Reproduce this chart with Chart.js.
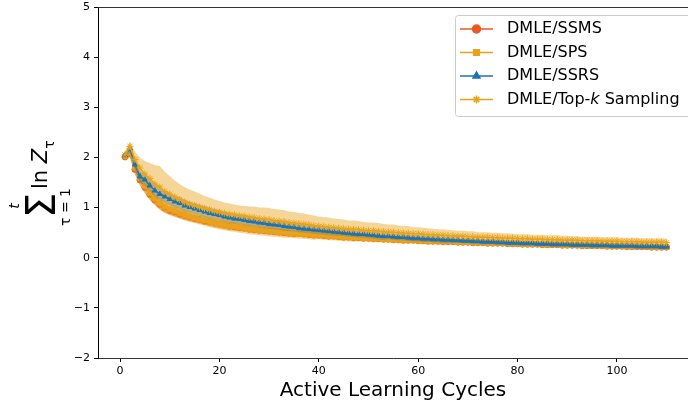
<!DOCTYPE html>
<html>
<head>
<meta charset="utf-8">
<script src="https://cdn.jsdelivr.net/npm/chart.js@4/dist/chart.umd.min.js"></script>
<style>
  html, body { margin: 0; padding: 0; background: #fff; }
  #wrap { width: 688px; height: 404px; }
</style>
</head>
<body>
<div id="wrap"><canvas id="chart" width="688" height="404"></canvas></div>
<script>
// x positions (active learning cycles)
const cycles = Array.from({ length: 110 }, (_, i) => i + 1);
const xTicks = [0, 20, 40, 60, 80, 100];
const yTicks = [-2, -1, 0, 1, 2, 3, 4, 5];

const ssmsMean = [
  2.01, 2.08, 1.76, 1.55, 1.40, 1.26, 1.15, 1.06, 0.99, 0.94,
  0.91, 0.87, 0.84, 0.81, 0.78, 0.76, 0.73, 0.71, 0.69, 0.67,
  0.65, 0.63, 0.62, 0.60, 0.59, 0.57, 0.56, 0.55, 0.54, 0.53,
  0.52, 0.51, 0.50, 0.49, 0.48, 0.48, 0.47, 0.46, 0.45, 0.45,
  0.44, 0.43, 0.43, 0.42, 0.41, 0.41, 0.40, 0.40, 0.39, 0.39,
  0.38, 0.38, 0.37, 0.37, 0.36, 0.36, 0.35, 0.35, 0.35, 0.34,
  0.34, 0.33, 0.33, 0.33, 0.32, 0.32, 0.32, 0.31, 0.31, 0.31,
  0.30, 0.30, 0.30, 0.29, 0.29, 0.29, 0.29, 0.28, 0.28, 0.28,
  0.27, 0.27, 0.27, 0.27, 0.26, 0.26, 0.26, 0.26, 0.25, 0.25,
  0.25, 0.25, 0.24, 0.24, 0.24, 0.24, 0.24, 0.23, 0.23, 0.23,
  0.23, 0.22, 0.22, 0.22, 0.22, 0.22, 0.21, 0.21, 0.21, 0.21
];
const ssmsStd = [
  0.07, 0.08, 0.10, 0.11, 0.11, 0.11, 0.10, 0.10, 0.10, 0.09,
  0.09, 0.09, 0.09, 0.08, 0.08, 0.08, 0.08, 0.08, 0.08, 0.08,
  0.08, 0.08, 0.08, 0.07, 0.07, 0.07, 0.07, 0.07, 0.07, 0.07,
  0.07, 0.07, 0.07, 0.07, 0.06, 0.06, 0.06, 0.06, 0.06, 0.06,
  0.06, 0.06, 0.06, 0.06, 0.06, 0.06, 0.06, 0.06, 0.06, 0.06,
  0.06, 0.06, 0.05, 0.05, 0.05, 0.05, 0.05, 0.05, 0.05, 0.05,
  0.05, 0.05, 0.05, 0.05, 0.05, 0.05, 0.05, 0.05, 0.05, 0.05,
  0.05, 0.05, 0.05, 0.05, 0.05, 0.05, 0.05, 0.05, 0.05, 0.05,
  0.05, 0.05, 0.05, 0.05, 0.05, 0.05, 0.05, 0.05, 0.05, 0.05,
  0.05, 0.05, 0.05, 0.05, 0.05, 0.05, 0.05, 0.05, 0.05, 0.05,
  0.05, 0.05, 0.05, 0.05, 0.05, 0.05, 0.05, 0.05, 0.05, 0.05
];

const spsMean = [
  2.02, 2.10, 1.79, 1.58, 1.43, 1.29, 1.18, 1.09, 1.02, 0.97,
  0.93, 0.89, 0.85, 0.82, 0.79, 0.76, 0.74, 0.71, 0.69, 0.67,
  0.65, 0.63, 0.62, 0.60, 0.59, 0.57, 0.56, 0.55, 0.54, 0.53,
  0.52, 0.51, 0.50, 0.49, 0.48, 0.47, 0.47, 0.46, 0.45, 0.45,
  0.44, 0.43, 0.43, 0.42, 0.41, 0.41, 0.40, 0.40, 0.39, 0.39,
  0.38, 0.38, 0.37, 0.37, 0.36, 0.36, 0.35, 0.35, 0.35, 0.34,
  0.34, 0.33, 0.33, 0.33, 0.32, 0.32, 0.32, 0.31, 0.31, 0.31,
  0.30, 0.30, 0.30, 0.29, 0.29, 0.29, 0.29, 0.28, 0.28, 0.28,
  0.27, 0.27, 0.27, 0.27, 0.26, 0.26, 0.26, 0.26, 0.25, 0.25,
  0.25, 0.25, 0.24, 0.24, 0.24, 0.24, 0.24, 0.23, 0.23, 0.23,
  0.23, 0.22, 0.22, 0.22, 0.22, 0.22, 0.21, 0.21, 0.21, 0.21
];
const spsStd = [
  0.08, 0.10, 0.12, 0.13, 0.14, 0.14, 0.13, 0.13, 0.12, 0.12,
  0.12, 0.11, 0.11, 0.11, 0.10, 0.10, 0.10, 0.10, 0.10, 0.10,
  0.10, 0.10, 0.10, 0.10, 0.10, 0.10, 0.10, 0.10, 0.10, 0.10,
  0.10, 0.10, 0.10, 0.09, 0.09, 0.09, 0.09, 0.09, 0.09, 0.08,
  0.08, 0.08, 0.08, 0.08, 0.08, 0.08, 0.08, 0.07, 0.07, 0.07,
  0.07, 0.07, 0.07, 0.07, 0.07, 0.07, 0.07, 0.07, 0.07, 0.07,
  0.07, 0.07, 0.07, 0.07, 0.07, 0.06, 0.06, 0.06, 0.06, 0.06,
  0.06, 0.06, 0.06, 0.06, 0.06, 0.06, 0.06, 0.06, 0.06, 0.06,
  0.06, 0.06, 0.06, 0.06, 0.06, 0.06, 0.06, 0.06, 0.06, 0.06,
  0.06, 0.06, 0.06, 0.06, 0.06, 0.06, 0.06, 0.06, 0.06, 0.06,
  0.06, 0.06, 0.06, 0.06, 0.06, 0.06, 0.06, 0.06, 0.06, 0.06
];

const ssrsMean = [
  2.04, 2.18, 1.86, 1.62, 1.56, 1.44, 1.34, 1.27, 1.22, 1.17,
  1.12, 1.09, 1.04, 1.01, 0.98, 0.95, 0.92, 0.89, 0.87, 0.85,
  0.82, 0.80, 0.78, 0.77, 0.75, 0.73, 0.72, 0.70, 0.69, 0.67,
  0.66, 0.65, 0.63, 0.62, 0.61, 0.59, 0.58, 0.57, 0.56, 0.55,
  0.54, 0.53, 0.52, 0.51, 0.50, 0.49, 0.48, 0.47, 0.47, 0.46,
  0.45, 0.44, 0.43, 0.43, 0.42, 0.41, 0.41, 0.40, 0.39, 0.39,
  0.38, 0.38, 0.37, 0.37, 0.36, 0.36, 0.35, 0.35, 0.34, 0.34,
  0.33, 0.33, 0.32, 0.32, 0.32, 0.31, 0.31, 0.30, 0.30, 0.30,
  0.29, 0.29, 0.29, 0.28, 0.28, 0.28, 0.27, 0.27, 0.27, 0.27,
  0.26, 0.26, 0.26, 0.26, 0.25, 0.25, 0.25, 0.25, 0.24, 0.24,
  0.24, 0.24, 0.24, 0.23, 0.23, 0.23, 0.23, 0.23, 0.22, 0.22
];
const ssrsStd = [
  0.06, 0.08, 0.10, 0.11, 0.12, 0.12, 0.12, 0.12, 0.12, 0.12,
  0.12, 0.12, 0.12, 0.11, 0.11, 0.11, 0.11, 0.11, 0.10, 0.10,
  0.10, 0.10, 0.10, 0.10, 0.10, 0.10, 0.09, 0.09, 0.09, 0.09,
  0.09, 0.09, 0.09, 0.09, 0.08, 0.08, 0.08, 0.08, 0.08, 0.08,
  0.08, 0.08, 0.08, 0.07, 0.07, 0.07, 0.07, 0.07, 0.07, 0.07,
  0.07, 0.07, 0.07, 0.06, 0.06, 0.06, 0.06, 0.06, 0.06, 0.06,
  0.06, 0.06, 0.06, 0.06, 0.06, 0.06, 0.05, 0.05, 0.05, 0.05,
  0.05, 0.05, 0.05, 0.05, 0.05, 0.05, 0.05, 0.05, 0.05, 0.05,
  0.05, 0.05, 0.05, 0.05, 0.05, 0.05, 0.05, 0.05, 0.05, 0.05,
  0.05, 0.05, 0.05, 0.05, 0.05, 0.05, 0.05, 0.05, 0.05, 0.05,
  0.05, 0.05, 0.05, 0.05, 0.05, 0.05, 0.05, 0.05, 0.05, 0.05
];

const topkMean = [
  2.05, 2.22, 1.96, 1.79, 1.67, 1.58, 1.47, 1.41, 1.32, 1.27,
  1.21, 1.16, 1.11, 1.07, 1.04, 1.01, 0.98, 0.96, 0.93, 0.91,
  0.89, 0.87, 0.86, 0.84, 0.83, 0.81, 0.80, 0.78, 0.77, 0.76,
  0.74, 0.73, 0.72, 0.70, 0.69, 0.68, 0.67, 0.66, 0.64, 0.63,
  0.62, 0.61, 0.60, 0.59, 0.58, 0.57, 0.57, 0.56, 0.55, 0.54,
  0.54, 0.53, 0.52, 0.51, 0.51, 0.50, 0.49, 0.49, 0.48, 0.48,
  0.47, 0.46, 0.46, 0.45, 0.45, 0.44, 0.44, 0.43, 0.43, 0.42,
  0.42, 0.41, 0.41, 0.41, 0.40, 0.40, 0.39, 0.39, 0.39, 0.38,
  0.38, 0.38, 0.37, 0.37, 0.37, 0.36, 0.36, 0.36, 0.35, 0.35,
  0.35, 0.35, 0.34, 0.34, 0.34, 0.34, 0.33, 0.33, 0.33, 0.33,
  0.32, 0.32, 0.32, 0.32, 0.31, 0.31, 0.31, 0.31, 0.31, 0.30
];
const topkStd = [
  0.08, 0.10, 0.16, 0.21, 0.26, 0.31, 0.38, 0.42, 0.40, 0.36,
  0.33, 0.31, 0.30, 0.29, 0.28, 0.27, 0.25, 0.24, 0.23, 0.22,
  0.21, 0.21, 0.20, 0.20, 0.20, 0.21, 0.22, 0.22, 0.23, 0.23,
  0.23, 0.23, 0.23, 0.22, 0.22, 0.21, 0.21, 0.20, 0.20, 0.19,
  0.19, 0.19, 0.18, 0.18, 0.18, 0.17, 0.17, 0.17, 0.16, 0.16,
  0.16, 0.16, 0.15, 0.15, 0.15, 0.14, 0.14, 0.14, 0.13, 0.13,
  0.13, 0.13, 0.12, 0.12, 0.12, 0.12, 0.11, 0.11, 0.11, 0.11,
  0.11, 0.10, 0.10, 0.10, 0.10, 0.10, 0.10, 0.10, 0.09, 0.09,
  0.09, 0.09, 0.09, 0.09, 0.09, 0.09, 0.09, 0.09, 0.09, 0.09,
  0.08, 0.08, 0.08, 0.08, 0.08, 0.08, 0.08, 0.08, 0.08, 0.08,
  0.08, 0.08, 0.08, 0.08, 0.08, 0.08, 0.08, 0.08, 0.08, 0.08
];

// order: higher = drawn earlier; each band is drawn right after its own line
const series = [
  { label: 'DMLE/SSMS', mean: ssmsMean, std: ssmsStd, color: '#EA5A20', marker: 'circle', lineOrder: 8, bandOrder: 7 },
  { label: 'DMLE/SPS', mean: spsMean, std: spsStd, color: '#E9A31A', marker: 'rect', lineOrder: 6, bandOrder: 5 },
  { label: 'DMLE/SSRS', mean: ssrsMean, std: ssrsStd, color: '#1F72B2', marker: 'triangle', lineOrder: 2, bandOrder: 4 },
  { label: 'DMLE/Top-k Sampling', mean: topkMean, std: topkStd, color: '#E9A31A', marker: 'star', lineOrder: 1, bandOrder: 3 }
];

const FONT = "'DejaVu Sans', sans-serif";

function alpha(hex, a) {
  const n = parseInt(hex.slice(1), 16);
  return `rgba(${(n >> 16) & 255},${(n >> 8) & 255},${n & 255},${a})`;
}

const datasets = [];
series.forEach(s => {
  datasets.push({
    data: cycles.map((x, i) => ({ x, y: s.mean[i] + s.std[i] })),
    borderWidth: 0, pointRadius: 0, fill: '+1',
    backgroundColor: alpha(s.color, 0.45), order: s.bandOrder
  });
  datasets.push({
    data: cycles.map((x, i) => ({ x, y: s.mean[i] - s.std[i] })),
    borderWidth: 0, pointRadius: 0, fill: false, order: s.bandOrder
  });
  datasets.push({
    data: cycles.map((x, i) => ({ x, y: s.mean[i] })),
    borderColor: s.color, backgroundColor: s.color, borderWidth: 1.5,
    pointStyle: s.marker, pointRadius: s.marker === 'star' ? 3.5 : 3,
    pointBorderWidth: 1, pointBorderColor: s.color, pointBackgroundColor: s.color,
    fill: false, order: s.lineOrder
  });
});

const decor = {
  id: 'decor',
  afterDraw(chart) {
    const ctx = chart.ctx, a = chart.chartArea;
    ctx.save();
    // top spine
    ctx.strokeStyle = '#333';
    ctx.lineWidth = 1;
    ctx.beginPath();
    ctx.moveTo(a.left, a.top + 0.5);
    ctx.lineTo(a.right, a.top + 0.5);
    ctx.stroke();

    // x title
    ctx.fillStyle = '#000';
    ctx.font = `20px ${FONT}`;
    ctx.textAlign = 'center';
    ctx.textBaseline = 'alphabetic';
    ctx.fillText('Active Learning Cycles', (a.left + a.right) / 2, 396);

    // y title: sum_{tau=1}^{t} ln Z_tau, rotated
    ctx.save();
    ctx.translate(45, 183);
    ctx.rotate(-Math.PI / 2);
    ctx.textAlign = 'left';
    ctx.font = `40px ${FONT}`;
    ctx.fillText('Σ', -35, 10);
    ctx.textAlign = 'center';
    ctx.font = `italic 14px ${FONT}`;
    ctx.fillText('t', -23, -26);
    ctx.font = `14px ${FONT}`;
    ctx.fillText('τ = 1', -24, 25);
    ctx.textAlign = 'left';
    ctx.font = `21px ${FONT}`;
    ctx.fillText('ln', -6, 2);
    const lnW = ctx.measureText('ln ').width;
    ctx.font = `italic 21px ${FONT}`;
    ctx.fillText('Z', -6 + lnW, 2);
    const zW = ctx.measureText('Z').width;
    ctx.font = `14px ${FONT}`;
    ctx.fillText('τ', -6 + lnW + zW, 9);
    ctx.restore();

    // legend
    const lx = 455, ly = 15, lw = 240, lh = 101;
    ctx.fillStyle = 'rgba(255,255,255,0.8)';
    ctx.strokeStyle = '#cccccc';
    ctx.lineWidth = 1;
    ctx.beginPath();
    ctx.roundRect(lx + 0.5, ly + 0.5, lw, lh, 3);
    ctx.fill();
    ctx.stroke();
    const rows = [29, 52.5, 76, 99.5];
    series.forEach((s, i) => {
      const y = rows[i];
      ctx.strokeStyle = s.color;
      ctx.lineWidth = 1.5;
      ctx.beginPath();
      ctx.moveTo(460, y);
      ctx.lineTo(493, y);
      ctx.stroke();
      ctx.fillStyle = s.color;
      Chart.helpers.drawPoint(ctx, {
        pointStyle: s.marker, radius: 4, rotation: 0, borderWidth: 1
      }, 476.5, y);
      ctx.fillStyle = '#000';
      ctx.font = `16px ${FONT}`;
      ctx.textAlign = 'left';
      ctx.textBaseline = 'middle';
      if (s.label.includes('Top-k')) {
        let x = 507;
        ctx.fillText('DMLE/Top-', x, y);
        x += ctx.measureText('DMLE/Top-').width;
        ctx.font = `italic 16px ${FONT}`;
        ctx.fillText('k', x, y);
        x += ctx.measureText('k').width;
        ctx.font = `16px ${FONT}`;
        ctx.fillText(' Sampling', x, y);
      } else {
        ctx.fillText(s.label, 507, y);
      }
    });
    ctx.restore();
  }
};

new Chart(document.getElementById('chart'), {
  type: 'line',
  data: { datasets },
  plugins: [decor],
  options: {
    responsive: false,
    animation: false,
    layout: { autoPadding: false, padding: { top: 7, right: 0, left: 0, bottom: 0 } },
    plugins: {
      legend: { display: false },
      tooltip: { enabled: false },
      filler: { drawTime: 'beforeDatasetDraw' }
    },
    scales: {
      x: {
        type: 'linear',
        min: -4.43,
        max: 114.3,
        afterBuildTicks: scale => { scale.ticks = xTicks.map(v => ({ value: v })); },
        afterFit: scale => { scale.height = 46; scale.paddingLeft = 0; scale.paddingRight = 0; },
        grid: { drawOnChartArea: false, tickLength: 4, tickColor: '#000' },
        border: { color: '#333', width: 1 },
        ticks: { color: '#000', font: { family: FONT, size: 11 }, padding: 3, maxRotation: 0 }
      },
      y: {
        type: 'linear',
        min: -2,
        max: 5,
        afterBuildTicks: scale => { scale.ticks = yTicks.map(v => ({ value: v })); },
        afterFit: scale => { scale.width = 98; scale.paddingTop = 0; scale.paddingBottom = 0; },
        grid: { drawOnChartArea: false, tickLength: 4, tickColor: '#000' },
        border: { color: '#000', width: 1 },
        ticks: {
          color: '#000', font: { family: FONT, size: 11 }, padding: 4,
          callback: v => String(v).replace('-', '\u2212')
        }
      }
    }
  }
});
</script>
</body>
</html>
